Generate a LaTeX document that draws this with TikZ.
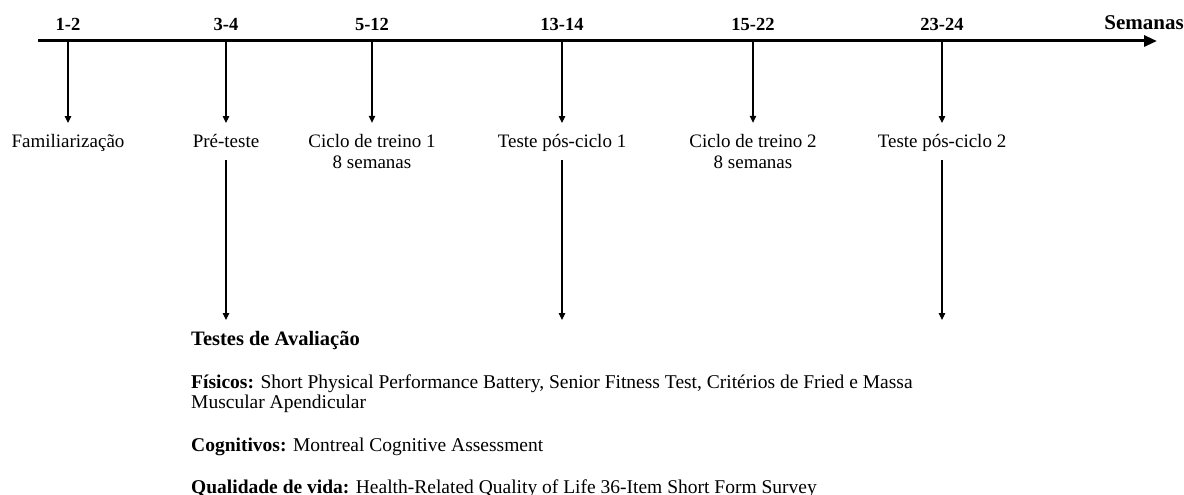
\documentclass[tikz,border=0pt]{standalone}
\usepackage{fontspec}
\setmainfont{Liberation Serif}
\usetikzlibrary{arrows.meta}
\begin{document}
\begin{tikzpicture}[x=1pt,y=-1pt,
  axis/.style={line width=3pt,-{Triangle[length=13pt,width=11pt]}},
  arr/.style={line width=1.1pt,-{Triangle[length=7pt,width=6.5pt]}},
  tick/.style={font=\bfseries\fontsize{18.5}{20}\selectfont,anchor=base,inner sep=0pt},
  lab/.style={font=\fontsize{19}{21}\selectfont,align=center,anchor=base,inner sep=0pt,outer sep=0pt,text height=13pt,text depth=4pt},
  labtwo/.style={font=\fontsize{19}{21}\selectfont,align=center,anchor=base,inner sep=0pt,outer sep=0pt},
  body/.style={font=\fontsize{19.5}{20}\selectfont,anchor=base west,inner sep=0pt},
  down/.style={arr,shorten >=11pt},
  low/.style={arr,shorten <=9pt}]
\useasboundingbox (0,0) rectangle (1184,495);
% axis
\coordinate (a0) at (38,41);
\coordinate (a1) at (1157,41);
\draw[axis] (a0) -- (a1);
\node[tick,font=\bfseries\fontsize{21}{22}\selectfont,anchor=base east] (sem) at (1184,30) {Semanas};
% points on axis
\coordinate (p1) at (68,41);
\coordinate (p2) at (226,41);
\coordinate (p3) at (372,41);
\coordinate (p4) at (562,41);
\coordinate (p5) at (753,41);
\coordinate (p6) at (942,41);
% tick labels
\node[tick] (t1) at (68,31) {1-2};
\node[tick] (t2) at (226,31) {3-4};
\node[tick] (t3) at (372,31) {5-12};
\node[tick] (t4) at (562,31) {13-14};
\node[tick] (t5) at (753,31) {15-22};
\node[tick] (t6) at (942,31) {23-24};
% phase labels
\node[lab] (l1) at (68,147) {Familiarização};
\node[lab] (l2) at (226,147) {Pré-teste};
\node[labtwo] (l3) at (372,168) {Ciclo de treino 1\\8 semanas};
\node[lab] (l4) at (562,147) {Teste pós-ciclo 1};
\node[labtwo] (l5) at (753,168) {Ciclo de treino 2\\8 semanas};
\node[lab] (l6) at (942,147) {Teste pós-ciclo 2};
% arrows from axis
\draw[down] (p1) -- (l1.north);
\draw[down] (p2) -- (l2.north);
\draw[down] (p3) -- (l3.north);
\draw[down] (p4) -- (l4.north);
\draw[down] (p5) -- (l5.north);
\draw[down] (p6) -- (l6.north);
% lower arrows
\coordinate (e2) at (226,320);
\coordinate (e4) at (562,320);
\coordinate (e6) at (942,320);
\draw[low] (l2.south) -- (e2);
\draw[low] (l4.south) -- (e4);
\draw[low] (l6.south) -- (e6);
% assessment text
\node[body,font=\bfseries\fontsize{20.5}{22}\selectfont] (h) at (191,345) {Testes de Avaliação};
\node[body] (f1) at (191,388) {\textbf{Físicos:} Short Physical Performance Battery, Senior Fitness Test, Critérios de Fried e Massa};
\node[body] (f2) at (191,408) {Muscular Apendicular};
\node[body] (c) at (191,451) {\textbf{Cognitivos:} Montreal Cognitive Assessment};
\node[body] (q) at (191,493) {\textbf{Qualidade de vida:} Health-Related Quality of Life 36-Item Short Form Survey};
\end{tikzpicture}
\end{document}
